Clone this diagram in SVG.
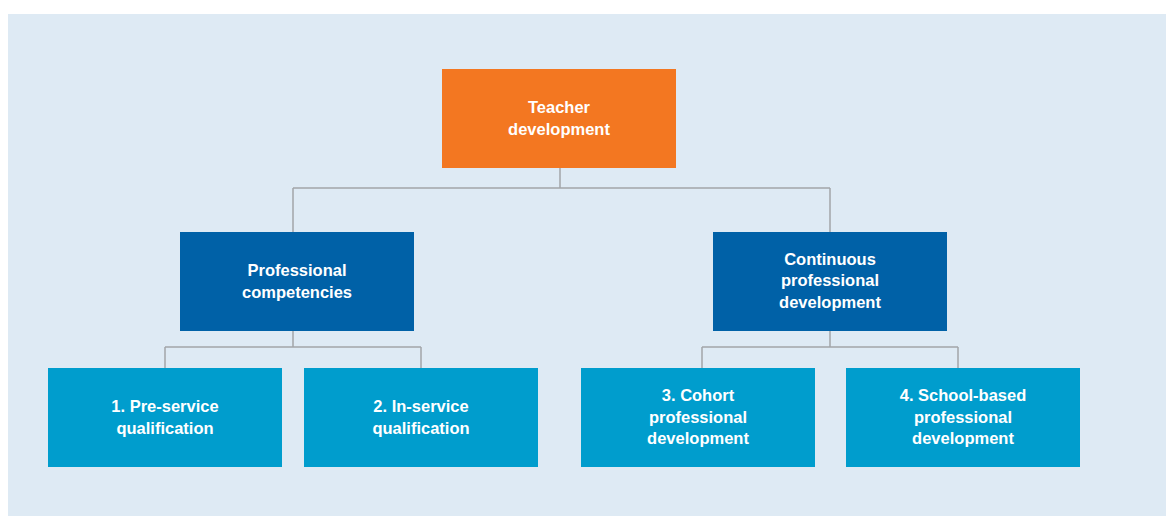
<svg xmlns="http://www.w3.org/2000/svg" width="1166" height="516" viewBox="0 0 1166 516">
<style>
.bg{fill:#deeaf4}
.orange{fill:#f37721}
.dark{fill:#0061a7}
.light{fill:#009dcd}
.conn{fill:none;stroke:#a2a5a8;stroke-width:1.5}
text{font-family:"Liberation Sans",Arial,sans-serif;font-weight:bold;font-size:16.5px;fill:#ffffff;text-anchor:middle}
</style>
<rect width="1166" height="516" fill="#ffffff"/>
<rect class="bg" x="8" y="14" width="1158" height="502"/>
<g id="connectors">
<path class="conn" d="M560,168 V188 M293,188 H830 M293,188 V232 M830,188 V232"/>
<path class="conn" d="M293,331 V347 M165,347 H421 M165,347 V368 M421,347 V368"/>
<path class="conn" d="M830,331 V347 M702,347 H958 M702,347 V368 M958,347 V368"/>
</g>
<g id="teacher-development">
<rect class="orange" x="442" y="69" width="234" height="99"/>
<text x="559" y="113">Teacher</text>
<text x="559" y="134.5">development</text>
</g>
<g id="professional-competencies">
<rect class="dark" x="180" y="232" width="234" height="99"/>
<text x="297" y="276">Professional</text>
<text x="297" y="297.5">competencies</text>
</g>
<g id="continuous-professional-development">
<rect class="dark" x="713" y="232" width="234" height="99"/>
<text x="830" y="264.5">Continuous</text>
<text x="830" y="286">professional</text>
<text x="830" y="307.5">development</text>
</g>
<g id="pre-service">
<rect class="light" x="48" y="368" width="234" height="99"/>
<text x="165" y="412">1. Pre-service</text>
<text x="165" y="433.5">qualification</text>
</g>
<g id="in-service">
<rect class="light" x="304" y="368" width="234" height="99"/>
<text x="421" y="412">2. In-service</text>
<text x="421" y="433.5">qualification</text>
</g>
<g id="cohort">
<rect class="light" x="581" y="368" width="234" height="99"/>
<text x="698" y="401">3. Cohort</text>
<text x="698" y="422.5">professional</text>
<text x="698" y="444">development</text>
</g>
<g id="school-based">
<rect class="light" x="846" y="368" width="234" height="99"/>
<text x="963" y="401">4. School-based</text>
<text x="963" y="422.5">professional</text>
<text x="963" y="444">development</text>
</g>
</svg>
